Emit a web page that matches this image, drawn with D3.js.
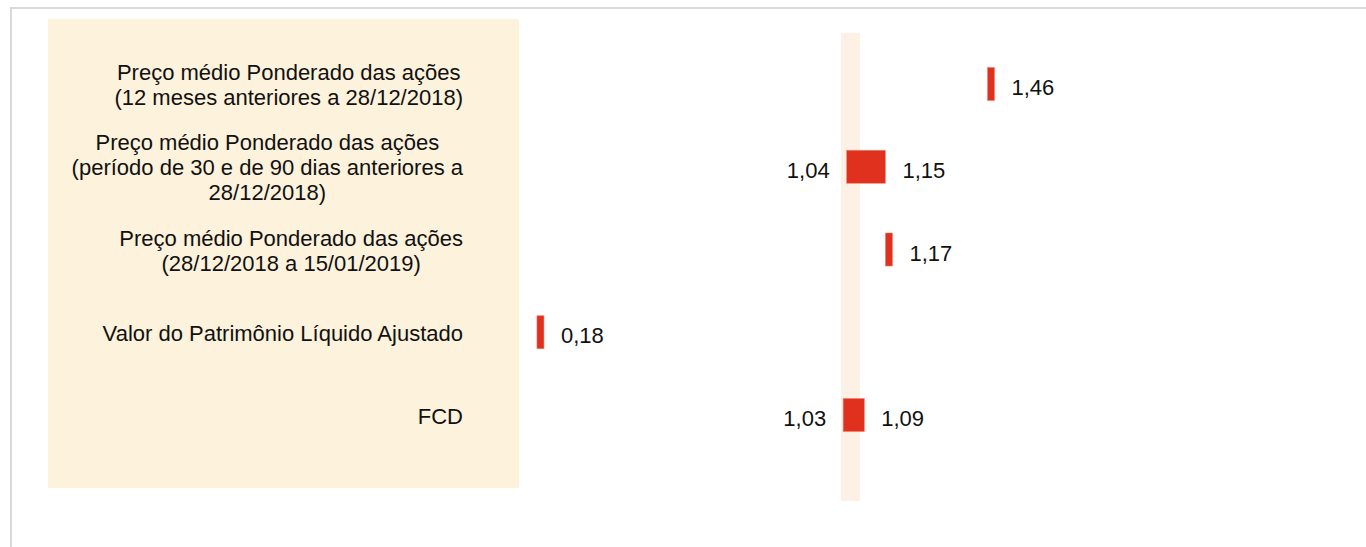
<!DOCTYPE html>
<html>
<head>
<meta charset="utf-8">
<script src="https://cdn.jsdelivr.net/npm/d3@7"></script>
<style>
  html, body { margin: 0; padding: 0; background: #fff; }
  svg { display: block; font-family: "Liberation Sans", Arial, sans-serif; }
</style>
</head>
<body>
<svg id="chart" width="1366" height="547"></svg>
<script>
// ---- data ----
const categories = [
  ["Preço médio Ponderado das ações", "(12 meses anteriores a 28/12/2018)"],
  ["Preço médio Ponderado das ações", "(período de 30 e de 90 dias anteriores a", "28/12/2018)"],
  ["Preço médio Ponderado das ações", "(28/12/2018 a 15/01/2019)"],
  ["Valor do Patrimônio Líquido Ajustado"],
  ["FCD"]
];
const lowValues  = [null, 1.04, null, null, 1.03];
const highValues = [1.46, 1.15, 1.17, 0.18, 1.09];
const referenceBand = [1.024, 1.078];

const fmt = v => d3.format(".2f")(v).replace(".", ",");

// ---- layout ----
const svg = d3.select("#chart");
const W = 1366, H = 547;
const red = "#E0301E";

const x = d3.scaleLinear().domain([0, 1.5]).range([480.6, 1008.6]);
const y = d3.scalePoint().domain(d3.range(categories.length)).range([84, 415]);
const barH = 33;
const minW = 7;

// outer border (top + left)
svg.append("rect")
  .attr("x", 11).attr("y", 8).attr("width", W + 20).attr("height", H + 20)
  .attr("fill", "none").attr("stroke", "#d9d9d9").attr("stroke-width", 2);

// category panel
svg.append("rect")
  .attr("x", 48).attr("y", 19).attr("width", 471).attr("height", 469)
  .attr("fill", "#FDF2DC");

// reference band
svg.append("rect")
  .attr("x", x(referenceBand[0])).attr("y", 33)
  .attr("width", x(referenceBand[1]) - x(referenceBand[0])).attr("height", 468)
  .attr("fill", "#FDF0E5");

// category labels (right-aligned block, lines centred within block)
const labelRight = 463, lineH = 25;
categories.forEach((lines, i) => {
  const g = svg.append("g");
  const n = lines.length;
  const texts = lines.map((t, k) => g.append("text")
    .attr("y", y(i) - (n - 1) * lineH / 2 + 8.5 + k * lineH)
    .attr("font-size", 22).attr("fill", "#111")
    .attr("text-anchor", "middle")
    .text(t));
  const bw = d3.max(texts, t => t.node().getComputedTextLength());
  texts.forEach(t => t.attr("x", labelRight - bw / 2));
});

// bars
categories.forEach((_, i) => {
  const hi = highValues[i], lo = lowValues[i];
  let x0, x1;
  if (lo == null) { x1 = x(hi); x0 = x1 - minW; }
  else { x0 = x(lo); x1 = x(hi); }
  svg.append("rect")
    .attr("x", x0).attr("y", y(i) - barH / 2)
    .attr("width", x1 - x0).attr("height", barH)
    .attr("fill", red).attr("stroke", "#F0806F").attr("stroke-width", 0.6);
  svg.append("text")
    .attr("x", x1 + 17).attr("y", y(i) + 11)
    .attr("font-size", 22).attr("fill", "#111")
    .text(fmt(hi));
  if (lo != null) {
    svg.append("text")
      .attr("x", x0 - 17).attr("y", y(i) + 11)
      .attr("font-size", 22).attr("fill", "#111")
      .attr("text-anchor", "end")
      .text(fmt(lo));
  }
});
</script>
</body>
</html>
